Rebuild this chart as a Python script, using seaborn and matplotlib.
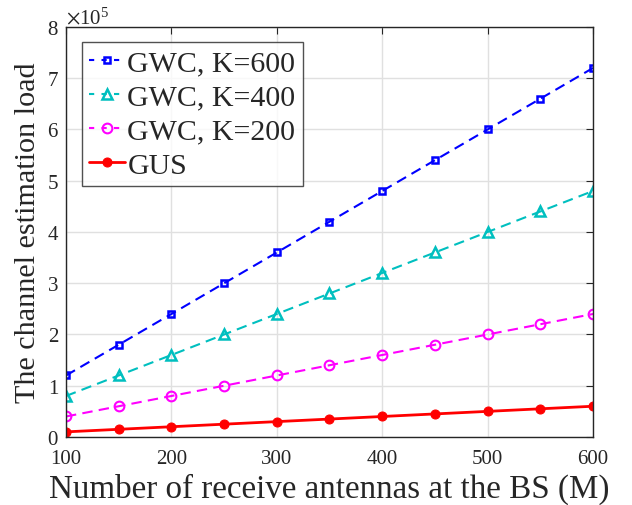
import matplotlib
matplotlib.use("Agg")
import matplotlib.pyplot as plt
import seaborn as sns
import numpy as np
from matplotlib.ticker import ScalarFormatter

M = [100, 150, 200, 250, 300, 350, 400, 450, 500, 550, 600]
gwc_600 = [1.2e5, 1.8e5, 2.4e5, 3.0e5, 3.6e5, 4.2e5, 4.8e5, 5.4e5, 6.0e5, 6.6e5, 7.2e5]
gwc_400 = [0.8e5, 1.2e5, 1.6e5, 2.0e5, 2.4e5, 2.8e5, 3.2e5, 3.6e5, 4.0e5, 4.4e5, 4.8e5]
gwc_200 = [0.4e5, 0.6e5, 0.8e5, 1.0e5, 1.2e5, 1.4e5, 1.6e5, 1.8e5, 2.0e5, 2.2e5, 2.4e5]
gus = [0.1e5, 0.15e5, 0.2e5, 0.25e5, 0.3e5, 0.35e5, 0.4e5, 0.45e5, 0.5e5, 0.55e5, 0.6e5]
labels = ["GWC, K=600", "GWC, K=400", "GWC, K=200", "GUS"]
xticks = [100, 200, 300, 400, 500, 600]
yticks = [0, 1e5, 2e5, 3e5, 4e5, 5e5, 6e5, 7e5, 8e5]

sns.set_style("white")
plt.rcParams['font.family'] = ['Liberation Serif', 'DejaVu Serif']
plt.rcParams['mathtext.fontset'] = 'stix'

fig = plt.figure(figsize=(6.32, 5.06), dpi=100)
ax = fig.add_axes([0.1044, 0.1344, 0.8339, 0.8103])

dash = (5, 3)
sns.lineplot(x=M, y=gwc_600, ax=ax, color='#0000ff', linewidth=1.5, dashes=False,
             marker='s', markersize=5, markerfacecolor='none', markeredgewidth=1.8,
             markeredgecolor='#0000ff', label=labels[0])
sns.lineplot(x=M, y=gwc_400, ax=ax, color='#00bfbf', linewidth=1.5, dashes=False,
             marker='^', markersize=7, markerfacecolor='none', markeredgewidth=1.8,
             markeredgecolor='#00bfbf', label=labels[1])
sns.lineplot(x=M, y=gwc_200, ax=ax, color='#ff00ff', linewidth=1.5, dashes=False,
             marker='o', markersize=7, markerfacecolor='none', markeredgewidth=1.5,
             markeredgecolor='#ff00ff', label=labels[2])
sns.lineplot(x=M, y=gus, ax=ax, color='#ff0000', linestyle='-', linewidth=2,
             marker='o', markersize=6.5, markerfacecolor='#ff0000', markeredgecolor='#ff0000',
             label=labels[3])
for ln in ax.lines[:3]:
    ln.set_linestyle((0, dash))

ax.set_xlim(100, 600)
ax.set_ylim(0, 8e5)
ax.set_xticks(xticks)
ax.set_yticks(yticks)
fmt = ScalarFormatter(useMathText=True)
fmt.set_powerlimits((0, 0))
ax.yaxis.set_major_formatter(fmt)
ax.yaxis.get_offset_text().set_fontsize(15)
ax.yaxis.get_offset_text().set_color('#262626')

ax.grid(True, color='#e0e0e0', linewidth=1)
ax.tick_params(direction='in', length=5, width=0.8, labelsize=15, top=True, right=True,
               colors='#262626', labelcolor='#262626')
ax.tick_params(axis='x', pad=9)
ax.tick_params(axis='y', pad=5)
for s in ax.spines.values():
    s.set_visible(True)
    s.set_color('#262626')
    s.set_linewidth(1)

ax.set_xlabel("Number of receive antennas at the BS (M)", fontsize=23.8, color='#262626', labelpad=3)
ax.set_ylabel("The channel estimation load", fontsize=21.7, color='#262626', labelpad=4)

leg = ax.legend(loc='upper left', bbox_to_anchor=(0.03, 0.963), fontsize=21.5, frameon=True,
                fancybox=False, edgecolor='#262626', handlelength=1.2, handletextpad=0.08,
                labelspacing=0.24, borderpad=0.25, borderaxespad=0)
leg.get_frame().set_linewidth(1)
for h in leg.get_lines()[:3]:
    h.set_linestyle((0, (2.5, 3.5)))

fig.savefig("out.png", dpi=100)
